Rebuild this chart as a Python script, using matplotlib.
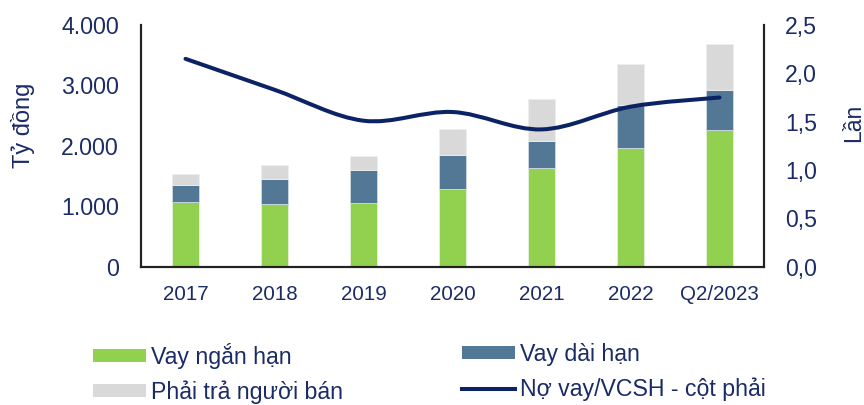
import matplotlib
matplotlib.use("Agg")
import matplotlib.pyplot as plt
from matplotlib.path import Path
from matplotlib.patches import PathPatch, Patch
from matplotlib.lines import Line2D
from matplotlib import font_manager
import numpy as np

categories = ["2017", "2018", "2019", "2020", "2021", "2022", "Q2/2023"]
vay_ngan_han = [1076, 1033, 1049, 1286, 1633, 1970, 2257]
vay_dai_han = [276, 418, 546, 563, 447, 706, 662]
phai_tra = [182, 232, 237, 430, 695, 674, 771]
no_vay_vcsh = [2.15, 1.83, 1.51, 1.60, 1.42, 1.655, 1.75]

left_ticks = [0, 1000, 2000, 3000, 4000]
left_labels = ["0", "1.000", "2.000", "3.000", "4.000"]
right_ticks = [0, 0.5, 1.0, 1.5, 2.0, 2.5]
right_labels = ["0,0", "0,5", "1,0", "1,5", "2,0", "2,5"]

GREEN = "#92D050"
BLUE = "#527896"
GRAY = "#D9D9D9"
NAVY = "#0B2265"
TEXT = "#1B2B66"

installed = {f.name for f in font_manager.fontManager.ttflist}
base = "Liberation Sans" if "Liberation Sans" in installed else "DejaVu Sans"
plt.rcParams["font.family"] = [base, "DejaVu Sans"]

fig = plt.figure(figsize=(8.64, 4.05), dpi=100)
ax = fig.add_axes([0.1632, 0.3415, 0.8843 - 0.1632, 0.9383 - 0.3415])
ax2 = ax.twinx()

x = np.arange(len(categories))
w = 0.31
b1 = np.array(vay_ngan_han)
b2 = b1 + np.array(vay_dai_han)
ax.bar(x, vay_ngan_han, w, color=GREEN, edgecolor="#e6f0dc", linewidth=0.6, zorder=2)
ax.bar(x, vay_dai_han, w, bottom=b1, color=BLUE, edgecolor="#d0dae4", linewidth=0.6, zorder=2)
ax.bar(x, phai_tra, w, bottom=b2, color=GRAY, edgecolor="#eeeeee", linewidth=0.6, zorder=2)

# smoothed line (Catmull-Rom -> cubic Bezier) through the data points
ys = np.array(no_vay_vcsh)
xs = x.astype(float)
verts = [(xs[0], ys[0])]
codes = [Path.MOVETO]
n = len(xs)
t = 1 / 6
for i in range(n - 1):
    p0 = (xs[max(i - 1, 0)], ys[max(i - 1, 0)])
    p1 = (xs[i], ys[i])
    p2 = (xs[i + 1], ys[i + 1])
    p3 = (xs[min(i + 2, n - 1)], ys[min(i + 2, n - 1)])
    c1 = (p1[0] + (p2[0] - p0[0]) * t, p1[1] + (p2[1] - p0[1]) * t)
    c2 = (p2[0] - (p3[0] - p1[0]) * t, p2[1] - (p3[1] - p1[1]) * t)
    verts += [c1, c2, p2]
    codes += [Path.CURVE4] * 3
ax2.add_patch(PathPatch(Path(verts, codes), facecolor="none", edgecolor=NAVY,
                        linewidth=2.9, capstyle="round", zorder=3))

ax.set_xlim(-0.5, len(categories) - 0.5)
ax.set_ylim(0, 4000)
ax2.set_ylim(0, 2.5)
ax.set_xticks(x)
ax.set_xticklabels(categories, fontsize=14.8, color=TEXT)
ax.set_yticks(left_ticks)
ax.set_yticklabels(left_labels, fontsize=16.7, color=TEXT)
ax2.set_yticks(right_ticks)
ax2.set_yticklabels(right_labels, fontsize=16.6, color=TEXT)
ax.tick_params(axis="both", length=0)
ax2.tick_params(axis="both", length=0)
ax.tick_params(axis="x", pad=13)
ax.tick_params(axis="y", pad=16)
ax2.tick_params(axis="y", pad=15)

for a in (ax, ax2):
    a.spines["top"].set_visible(False)
    for s in ("left", "right", "bottom"):
        a.spines[s].set_color("#222222")
        a.spines[s].set_linewidth(1.5)

ax.set_ylabel("Tỷ đồng", fontsize=17, color=TEXT)
ax.yaxis.set_label_coords(-0.170, 0.584)
ax2.set_ylabel("Lần", fontsize=16.5, color=TEXT, rotation=90)
ax2.yaxis.set_label_coords(1.125, 0.595)

leg_kw = dict(frameon=False, handlelength=2.27, handleheight=0.48,
              handletextpad=0.25, labelspacing=0.5, borderaxespad=0, borderpad=0,
              prop={"family": [base, "DejaVu Sans"], "size": 16.7})
h1 = [Patch(facecolor=GREEN, edgecolor="none"), Patch(facecolor=GRAY, edgecolor="none")]
h2 = [Patch(facecolor=BLUE, edgecolor="none"), Line2D([], [], color=NAVY, linewidth=2.9)]
l1 = fig.legend(h1, ["Vay ngắn hạn", "Phải trả người bán"], loc="upper left",
                bbox_to_anchor=(93 / 864, 1 - 343 / 405), **leg_kw)
l2 = fig.legend(h2, ["Vay dài hạn", "Nợ vay/VCSH - cột phải"], loc="upper left",
                bbox_to_anchor=(462 / 864, 1 - 343 / 405), **leg_kw)
for lg in (l1, l2):
    for t_ in lg.get_texts():
        t_.set_color(TEXT)

fig.savefig("out.png", dpi=100)
